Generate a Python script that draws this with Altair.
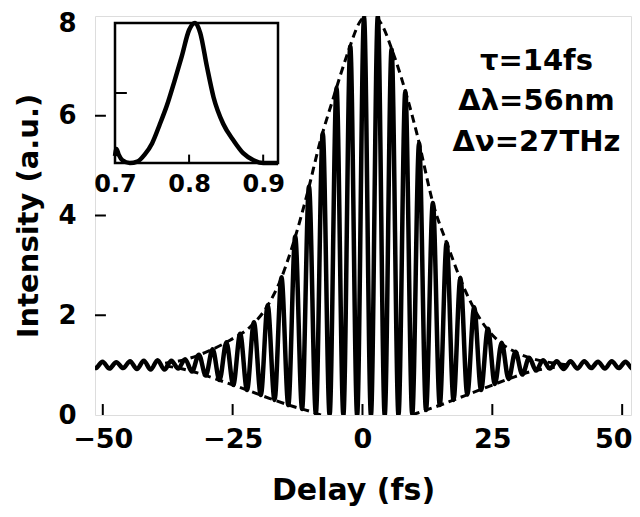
import altair as alt
import pandas as pd

# ---------------- data ----------------
# interferometric autocorrelation: successive fringe maxima / minima
fringe_delay = [-52.70, -51.38, -50.05, -48.73, -47.40, -46.08, -44.75, -43.43, -42.10, -40.78,
                -39.45, -38.13, -36.80, -35.48, -34.15, -32.83, -31.50, -30.18, -28.85, -27.53,
                -26.20, -24.88, -23.55, -22.23, -20.90, -19.58, -18.25, -16.93, -15.60, -14.28,
                -12.95, -11.63, -10.30, -8.98, -7.65, -6.33, -5.00, -3.68, -2.35, -1.03,
                0.30, 1.63, 2.95, 4.28, 5.60, 6.93, 8.25, 9.58, 10.90, 12.23,
                13.55, 14.88, 16.20, 17.53, 18.85, 20.18, 21.50, 22.83, 24.15, 25.48,
                26.80, 28.13, 29.45, 30.78, 32.10, 33.43, 34.75, 36.08, 37.40, 38.73,
                40.05, 41.38, 42.70, 44.03, 45.35, 46.68, 48.00, 49.33, 50.65, 51.98, 53.30]
fringe_value = [1.07, 0.94, 1.07, 0.93, 1.06, 0.94, 1.08, 0.92, 1.09, 0.91,
                1.10, 0.91, 1.09, 0.93, 1.12, 0.87, 1.21, 0.79, 1.32, 0.70,
                1.46, 0.60, 1.63, 0.50, 1.86, 0.40, 2.20, 0.30, 2.76, 0.20,
                3.58, 0.12, 4.58, 0.03, 5.65, 0.00, 6.56, 0.00, 7.39, 0.00,
                7.97, 0.00, 7.99, 0.00, 7.33, 0.00, 6.49, 0.01, 5.45, 0.10,
                4.25, 0.20, 3.45, 0.30, 2.75, 0.41, 2.16, 0.50, 1.73, 0.62,
                1.45, 0.72, 1.27, 0.81, 1.15, 0.89, 1.10, 0.93, 1.08, 0.92,
                1.08, 0.93, 1.08, 0.94, 1.07, 0.93, 1.08, 0.94, 1.07, 0.93, 1.07]

# dashed envelopes
env_up_delay = [-38.0, -34.6, -29.9, -25.5, -21.6, -18.4, -15.8, -13.3, -10.6, -8.1, -5.6, -2.9,
                -0.4, 1.6, 3.6, 6.0, 8.6, 10.5, 13.7, 16.4, 19.5, 22.8, 26.0, 29.9, 33.8, 37.6, 40.0]
env_up_value = [1.04, 1.10, 1.27, 1.50, 1.77, 2.17, 2.70, 3.45, 4.45, 5.50, 6.36, 7.24,
                7.90, 8.05, 7.85, 7.23, 6.37, 5.63, 4.20, 3.40, 2.56, 1.90, 1.50, 1.24, 1.10, 1.03, 1.00]
env_lo_left_delay = [-38.0, -36.5, -31.3, -26.8, -22.2, -17.8, -13.3, -10.0, -8.0]
env_lo_left_value = [0.98, 0.96, 0.83, 0.67, 0.50, 0.33, 0.17, 0.07, 0.00]
env_lo_right_delay = [9.5, 10.6, 15.0, 19.5, 24.0, 28.6, 32.4, 35.7, 40.0]
env_lo_right_value = [0.00, 0.04, 0.20, 0.38, 0.56, 0.74, 0.87, 0.94, 0.99]

x_ticks = [-50, -25, 0, 25, 50]
y_ticks = [0, 2, 4, 6, 8]
y_inner_ticks = [2, 4, 6]

# inset: spectrum
inset_lambda = [0.700, 0.702, 0.705, 0.710, 0.720, 0.730, 0.740, 0.750, 0.760, 0.770, 0.780, 0.790,
                0.800, 0.808, 0.815, 0.824, 0.833, 0.846, 0.860, 0.873, 0.887, 0.900, 0.920]
inset_value = [0.05, 0.10, 0.06, 0.02, 0.00, 0.01, 0.06, 0.14, 0.27, 0.41, 0.58, 0.76,
               0.95, 1.00, 0.93, 0.69, 0.47, 0.28, 0.16, 0.07, 0.02, 0.00, 0.00]
inset_ticks = [0.7, 0.8, 0.9]
inset_inner_ticks = [0.8, 0.9]

labels = ["τ=14fs", "Δλ=56nm", "Δν=27THz"]
label_x = [33.5, 33.5, 33.5]
label_y = [7.10, 6.30, 5.48]

# ---------------- chart ----------------
FONT = "DejaVu Sans"
X0, X1 = -51.5, 51.7

fringe_df = pd.DataFrame({"d": fringe_delay, "v": fringe_value})
up_df = pd.DataFrame({"d": env_up_delay, "v": env_up_value})
lol_df = pd.DataFrame({"d": env_lo_left_delay, "v": env_lo_left_value})
lor_df = pd.DataFrame({"d": env_lo_right_delay, "v": env_lo_right_value})
xt_df = pd.DataFrame({"d": x_ticks})
yt_df = pd.DataFrame({"v": y_inner_ticks})
lab_df = pd.DataFrame({"d": label_x, "v": label_y, "t": labels})
inset_df = pd.DataFrame({"l": inset_lambda, "s": inset_value})
it_df = pd.DataFrame({"l": inset_inner_ticks})

xs = alt.Scale(domain=[X0, X1], nice=False, zero=False)
ys = alt.Scale(domain=[0, 8], nice=False, zero=False)

xax = alt.Axis(values=x_ticks, title="Delay (fs)", grid=False, ticks=False, tickSize=0,
               domain=False, labelFont=FONT, labelFontSize=27, labelFontWeight="bold",
               labelColor="black", labelPadding=11, labelFlush=False,
               labelOffset=alt.condition("datum.value == 50", alt.value(-9), alt.value(0)),
               titleFont=FONT, titleFontSize=30, titleFontWeight="bold", titleColor="black",
               titleY=75, titleX=258, titleBaseline="middle")
yax = alt.Axis(values=y_ticks, title="Intensity (a.u.)", grid=False, ticks=False, tickSize=0,
               domain=False, labelFont=FONT, labelFontSize=26, labelFontWeight="bold",
               labelColor="black", labelPadding=19, labelFlush=False,
               labelOffset=alt.condition("datum.value == 8", alt.value(7), alt.value(0)),
               titleFont=FONT, titleFontSize=29, titleFontWeight="bold", titleColor="black",
               titleX=-67, titleBaseline="middle")

X = lambda f: alt.X(f, scale=xs, axis=xax)
Y = lambda f: alt.Y(f, scale=ys, axis=yax)

curve = alt.Chart(fringe_df).mark_line(color="black", strokeWidth=4.5, interpolate="monotone",
                                       clip=True).encode(x=X("d:Q"), y=Y("v:Q"))
dash = dict(color="black", strokeWidth=3, strokeDash=[8, 5], interpolate="monotone", clip=True)
env_up = alt.Chart(up_df).mark_line(**dash).encode(x=X("d:Q"), y=Y("v:Q"))
env_ll = alt.Chart(lol_df).mark_line(**dash).encode(x=X("d:Q"), y=Y("v:Q"))
env_lr = alt.Chart(lor_df).mark_line(**dash).encode(x=X("d:Q"), y=Y("v:Q"))

xticks = alt.Chart(xt_df).mark_rule(color="black", strokeWidth=2).encode(
    x=X("d:Q"), y=alt.Y(datum=0, scale=ys, axis=yax), y2=alt.Y2(datum=0.22))
yticks = alt.Chart(yt_df).mark_rule(color="black", strokeWidth=2).encode(
    y=Y("v:Q"), x=alt.X(datum=X0, scale=xs, axis=xax), x2=alt.X2(datum=X0 + 2.1))

text = alt.Chart(lab_df).mark_text(font=FONT, fontSize=29, fontWeight="bold", align="center",
                                   baseline="middle", color="black").encode(
    x=X("d:Q"), y=Y("v:Q"), text="t:N")

main = alt.layer(env_up, env_ll, env_lr, curve, xticks, yticks, text)

# inset (own scales, placed in the upper-left corner of the plot area)
ixs = alt.Scale(domain=[0.7, 0.92], range=[20, 183], nice=False, zero=False)
iys = alt.Scale(domain=[0, 1], range=[147, 7], nice=False, zero=False)
ixax = alt.Axis(values=inset_ticks, format=".1f", orient="bottom", offset=-252, title=None,
                grid=False, ticks=False, tickSize=0, domain=False, labelFont=FONT,
                labelFontSize=24, labelFontWeight="bold", labelColor="black",
                labelPadding=9, labelFlush=False)
IX = lambda f: alt.X(f, scale=ixs, axis=ixax)
IY = lambda f: alt.Y(f, scale=iys, axis=None)

frame_df = pd.DataFrame({"l0": [0.7], "l1": [0.92], "s0": [0.0], "s1": [1.0]})
iframe = alt.Chart(frame_df).mark_rect(fill="white", stroke="black", strokeWidth=2.5).encode(
    x=IX("l0:Q"), x2="l1:Q", y=IY("s0:Q"), y2="s1:Q")
icurve = alt.Chart(inset_df).mark_line(color="black", strokeWidth=4.5, interpolate="monotone").encode(
    x=IX("l:Q"), y=IY("s:Q"))
ixt = alt.Chart(it_df).mark_rule(color="black", strokeWidth=2).encode(
    x=IX("l:Q"), y=alt.Y(datum=0, scale=iys, axis=None), y2=alt.Y2(datum=0.06))
iyt = alt.Chart(pd.DataFrame({"s": [0.5]})).mark_rule(color="black", strokeWidth=2).encode(
    y=IY("s:Q"), x=alt.X(datum=0.7, scale=ixs, axis=ixax), x2=alt.X2(datum=0.716))

inset = alt.layer(iframe, icurve, ixt, iyt)

chart = alt.layer(main, inset).resolve_scale(x="independent", y="independent").properties(
    width=536, height=399,
    padding={"left": 87, "top": 8, "right": 1, "bottom": 92},
    autosize=alt.AutoSizeParams(type="none"),
).configure_view(stroke="black", strokeWidth=2.5).configure(background="white")

chart.save("out.html", embed_options={"renderer": "svg", "actions": False})
